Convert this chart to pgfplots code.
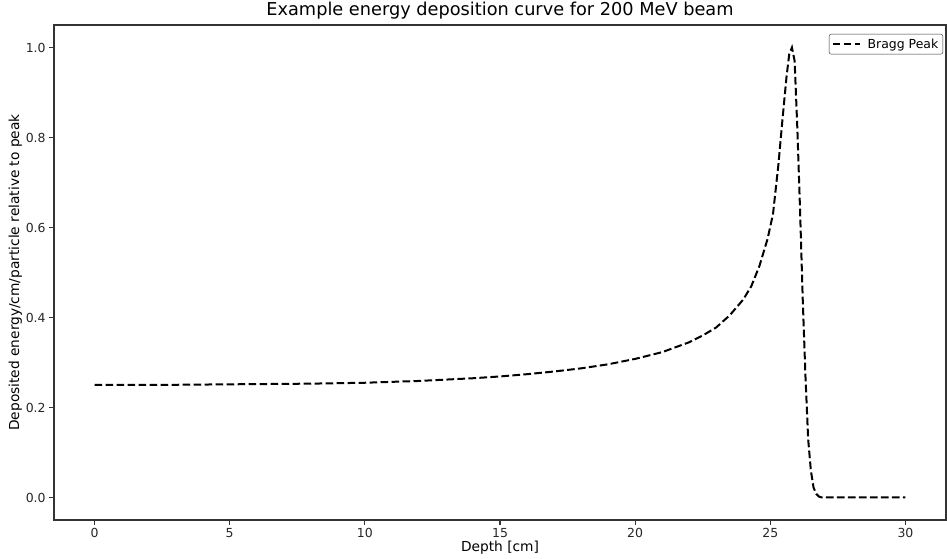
\documentclass[border=0pt]{standalone}
\usepackage{pgfplots}
\pgfplotsset{compat=1.18}
\usepackage{fontspec}
\setmainfont{DejaVu Sans}
\begin{document}
\begin{tikzpicture}
\begin{axis}[
  name=ax,
  scale only axis,
  width=892bp, height=495bp,
  xmin=-1.5, xmax=31.5, ymin=-0.05, ymax=1.05,
  xtick={0,5,10,15,20,25,30},
  ytick={0,0.2,0.4,0.6,0.8,1.0},
  yticklabel style={/pgf/number format/.cd,fixed,fixed zerofill,precision=1},
  /pgf/number format/assume math mode=true,
  tick label style={font=\fontsize{12.5}{14}\selectfont, text=black!85},
  tick align=outside, tick pos=left,
  major tick length=4.9bp,
  every tick/.style={black!80, line width=1.1bp},
  axis line style={black!80, line width=1.1bp},
  title={Example energy deposition curve for 200 MeV beam},
  title style={font=\fontsize{17.8}{20}\selectfont, yshift=-4bp},
  xlabel={Depth [cm]},
  ylabel={Deposited energy/cm/particle relative to peak},
  label style={font=\fontsize{13.8}{16}\selectfont},
  xlabel style={yshift=4bp},
  ylabel style={yshift=-3bp},
  legend style={at={(axis description cs:1,1)}, xshift=-3bp, yshift=-9bp, anchor=north east, draw=black!80, rounded corners=2bp, font=\fontsize{12.5}{14}\selectfont, inner sep=2.5bp},
  legend cell align=left,
  legend image code/.code={\draw[#1] (0bp,0bp) -- (27bp,0bp);},
]
\addplot[black, line width=2bp, dash pattern=on 7.7bp off 3.3bp] coordinates {
(0,0.250) (2,0.250) (4,0.251) (6,0.252) (8,0.253) (10,0.255) (12,0.259)
(14,0.265) (15,0.269) (16,0.274) (17,0.280) (18,0.287) (19,0.296) (20,0.308)
(21,0.323) (22,0.345) (22.5,0.360) (23,0.378) (23.5,0.405) (24,0.440)
(24.3,0.470) (24.6,0.515) (24.9,0.575) (25.1,0.630) (25.3,0.740) (25.45,0.840)
(25.6,0.935) (25.7,0.985) (25.8,1.000) (25.9,0.970) (26.0,0.820) (26.1,0.640)
(26.2,0.440) (26.3,0.270) (26.4,0.130) (26.5,0.060) (26.6,0.022) (26.7,0.008)
(26.8,0.002) (26.9,0.000) (30,0.000)
};
\addlegendentry{\hspace{5bp}Bragg Peak}
\end{axis}
\pgfresetboundingbox
\useasboundingbox (ax.south west) ++(-54bp,-39bp) rectangle ++(947bp,559bp);
\end{tikzpicture}
\end{document}
